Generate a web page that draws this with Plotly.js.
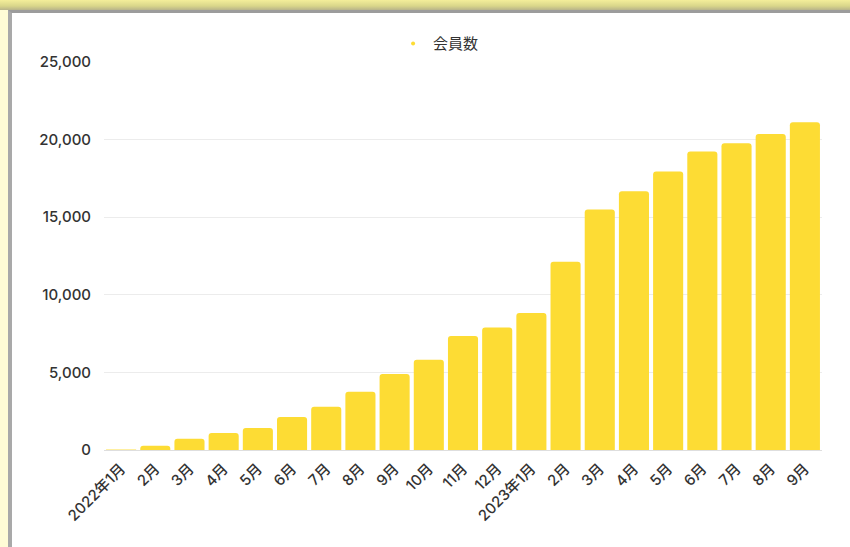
<!DOCTYPE html>
<html>
<head>
<meta charset="utf-8">
<script src="https://cdn.plot.ly/plotly-3.0.1.min.js"></script>
<style>
  html, body { margin: 0; padding: 0; width: 850px; height: 547px; overflow: hidden; }
  body { background: #fffcd6; position: relative; }
  #topband { position: absolute; left: 0; top: 0; width: 850px; height: 10px;
    background: linear-gradient(to bottom, #f4ee9a 0%, #d9d68a 60%, #b8b48a 100%); }
  #frame { position: absolute; left: 8px; top: 10px; width: 838px; height: 537px;
    border-left: 4px solid #a9a9a9; border-top: 3px solid #9c9c9c; background: #fff; }
  #chart { width: 838px; height: 534px; }
</style>
</head>
<body>
<div id="topband"></div>
<div id="frame"><div id="chart"></div></div>
<script>
const categories = ["2022年1月","2月","3月","4月","5月","6月","7月","8月","9月","10月","11月","12月",
  "2023年1月","2月","3月","4月","5月","6月","7月","8月","9月"];
const members = [30, 280, 720, 1090, 1420, 2130, 2790, 3760, 4900, 5810, 7350, 7890,
  8820, 12130, 15490, 16680, 17950, 19240, 19760, 20360, 21120];
const seriesName = "会員数";
const yTicks = [0, 5000, 10000, 15000, 20000, 25000];

const xIdx = categories.map((c, i) => i);

const traces = [
  {
    type: "bar",
    x: xIdx,
    y: members,
    name: seriesName,
    showlegend: false,
    marker: { color: "#fddc34", line: { width: 0 } },
    hoverinfo: "skip"
  },
  {
    type: "scatter",
    mode: "markers",
    x: [null],
    y: [null],
    name: seriesName,
    marker: { color: "#fddc34", size: 4, symbol: "circle" },
    showlegend: true
  }
];

const layout = {
  width: 838,
  height: 534,
  margin: { l: 92, r: 28, t: 49, b: 97 },
  paper_bgcolor: "#ffffff",
  plot_bgcolor: "#ffffff",
  font: { family: "Inter, 'Noto Sans CJK JP', sans-serif", size: 14, color: "#333333" },
  bargap: 0.12,
  barcornerradius: 3,
  showlegend: true,
  legend: {
    orientation: "h",
    x: 0.466, xanchor: "center",
    y: 1.047, yanchor: "middle",
    font: { size: 15, color: "#333333", family: "'Noto Sans CJK JP', Inter, sans-serif" },
    itemwidth: 30,
    bgcolor: "rgba(0,0,0,0)"
  },
  xaxis: {
    tickmode: "array",
    tickvals: xIdx,
    ticktext: categories,
    tickangle: -45,
    range: [-0.5, categories.length - 0.5],
    showgrid: false,
    zeroline: false,
    showline: false,
    ticks: "",
    ticklabelstandoff: 6,
    tickfont: { size: 15, weight: 500, color: "#333333", family: "Inter, 'Noto Sans CJK JP', sans-serif" }
  },
  yaxis: {
    range: [0, 25000],
    tickmode: "array",
    tickvals: yTicks,
    tickformat: ",d",
    showgrid: true,
    gridcolor: "#ececec",
    gridwidth: 1,
    zeroline: true,
    zerolinecolor: "#dedede",
    zerolinewidth: 1,
    showline: false,
    ticks: "",
    ticklabelstandoff: 12,
    tickfont: { size: 15, weight: 500, color: "#333333", family: "Inter, sans-serif" }
  }
};

Plotly.newPlot("chart", traces, layout, { displayModeBar: false, staticPlot: true });
</script>
</body>
</html>
